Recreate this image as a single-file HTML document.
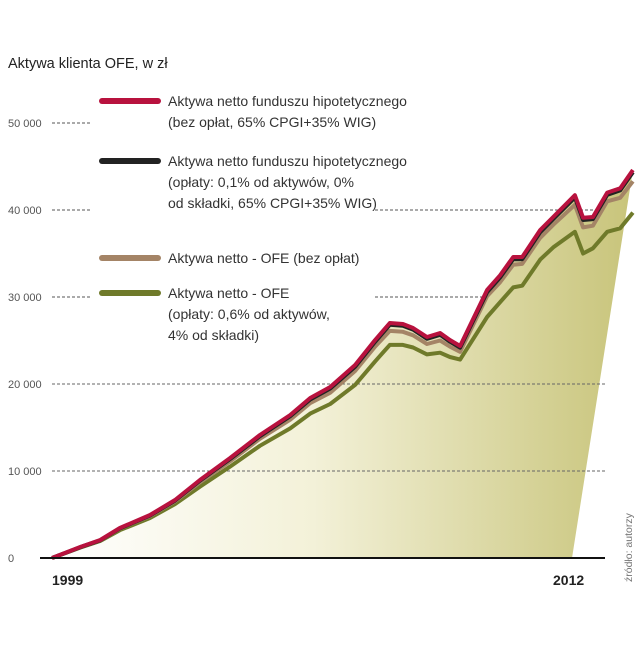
<!DOCTYPE html>
<html><head><meta charset="utf-8"><style>
body{margin:0;background:#fff;width:640px;height:640px;overflow:hidden}
svg text{font-family:"Liberation Sans",sans-serif}
</style></head><body>
<svg id="c" width="640" height="640" xmlns="http://www.w3.org/2000/svg">
<defs><linearGradient id="g" x1="0" x2="1" y1="0" y2="0">
<stop offset="0" stop-color="#ffffff"/><stop offset="0.45" stop-color="#f3f1d8"/><stop offset="1" stop-color="#c8c47a"/></linearGradient></defs>
<text x="8" y="68" font-size="14.5" fill="#222">Aktywa klienta OFE, w zł</text>
<g id="grid"></g>
<g id="fillg"></g>
<g id="lines"></g>
<line x1="40" x2="605" y1="558" y2="558" stroke="#111" stroke-width="2"/>
<text x="52" y="585" font-size="14" font-weight="bold" fill="#222">1999</text>
<text x="553" y="585" font-size="14" font-weight="bold" fill="#222">2012</text>
<text transform="translate(632,582) rotate(-90)" font-size="10.5" fill="#777">źródło: autorzy</text>
<g font-size="14" fill="#333">
<line x1="102" x2="158" y1="101" y2="101" stroke="#b8123e" stroke-width="6" stroke-linecap="round"/>
<text x="168" y="106">Aktywa netto funduszu hipotetycznego<tspan x="168" dy="21">(bez opłat, 65% CPGI+35% WIG)</tspan></text>
<line x1="102" x2="158" y1="161" y2="161" stroke="#222" stroke-width="6" stroke-linecap="round"/>
<text x="168" y="166">Aktywa netto funduszu hipotetycznego<tspan x="168" dy="21">(opłaty: 0,1% od aktywów, 0%</tspan><tspan x="168" dy="21">od składki, 65% CPGI+35% WIG)</tspan></text>
<line x1="102" x2="158" y1="258" y2="258" stroke="#a48466" stroke-width="6" stroke-linecap="round"/>
<text x="168" y="263">Aktywa netto -  OFE (bez opłat)</text>
<line x1="102" x2="158" y1="293" y2="293" stroke="#6f7a2a" stroke-width="6" stroke-linecap="round"/>
<text x="168" y="298">Aktywa netto -  OFE<tspan x="168" dy="21">(opłaty: 0,6% od aktywów,</tspan><tspan x="168" dy="21">4% od składki)</tspan></text>
</g>
</svg>
<script>
const years=[1999.0,1999.69,2000.18,2000.66,2001.40,2002.01,2002.62,2003.36,2004.09,2004.83,2005.32,2005.81,2006.42,2006.91,2007.27,2007.59,2007.84,2008.18,2008.50,2008.74,2008.99,2009.65,2009.97,2010.29,2010.51,2010.95,2011.27,2011.80,2012.0,2012.24,2012.59,2012.91,2013.22];
const redVals=[0,1.26,2.07,3.45,4.94,6.67,8.97,11.49,14.14,16.44,18.39,19.66,22.18,25.06,27.01,26.9,26.44,25.4,25.86,25.06,24.37,30.8,32.5,34.6,34.6,37.7,39.2,41.7,39.1,39.2,42.0,42.5,44.6];
const blackVals=[0,1.24,2.03,3.4,4.88,6.6,8.88,11.38,14.0,16.3,18.22,19.48,21.98,24.85,26.8,26.7,26.25,25.2,25.65,24.86,24.18,30.55,32.25,34.35,34.35,37.45,38.95,41.45,38.85,38.95,41.75,42.25,44.35];
const brownVals=[0,1.24,2.02,3.38,4.82,6.5,8.7,11.1,13.7,15.9,17.8,19.0,21.5,24.3,26.1,26.0,25.6,24.6,25.0,24.3,23.7,30.1,31.7,33.7,33.8,36.8,38.3,40.6,38.0,38.2,41.0,41.4,43.3];
const greenVals=[0,1.2,1.95,3.2,4.6,6.2,8.2,10.5,12.9,14.9,16.6,17.7,19.9,22.6,24.5,24.5,24.2,23.4,23.6,23.1,22.8,27.7,29.4,31.1,31.3,34.3,35.7,37.5,35.0,35.6,37.5,37.9,39.7];
const yTicks=[0,10000,20000,30000,40000,50000];
const yTickLabels=["0","10 000","20 000","30 000","40 000","50 000"];
const fillEndYear=2011.73;
const NS="http://www.w3.org/2000/svg";
function xs(yr){return 52+(yr-1999)*40.85;}
function ys(v){return 558-v*8.7;} // v in thousands
function el(t,a,p){const e=document.createElementNS(NS,t);for(const k in a)e.setAttribute(k,a[k]);p.appendChild(e);return e;}
const grid=document.getElementById('grid');
yTicks.forEach((t,i)=>{
  const y=ys(t/1000);
  const lab=el('text',{x:8,y:y+4,'font-size':11,fill:'#555'},grid);
  lab.textContent=yTickLabels[i];
  
  
  if(t===0)return;
  const segs=t>=50000?[[52,92]]:(t>=30000?[[52,92],[375,605]]:[[52,605]]);
  segs.forEach(s=>{
    const l=el('line',{x1:s[0],x2:s[1],y1:y,y2:y,stroke:'#555','stroke-width':1,'stroke-dasharray':'3,2'},grid);
    
    
  });
});
function pts(vals){return years.map((yr,i)=>xs(yr).toFixed(1)+','+ys(vals[i]).toFixed(1));}
const fp=el('polygon',{points:pts(redVals).join(' ')+' '+xs(fillEndYear)+','+ys(0),fill:'url(#g)'},document.getElementById('fillg'));


// redraw gridlines 10k/20k over fill
const lines=document.getElementById('lines');
[10000,20000].forEach(t=>{const y=ys(t/1000);
  const l=el('line',{x1:52,x2:605,y1:y,y2:y,stroke:'#666','stroke-width':1,'stroke-dasharray':'3,2'},lines);
  
  });
[[greenVals,'#6f7a2a','line-ofe-fees'],[brownVals,'#a48466','line-ofe-no-fees'],[blackVals,'#222','line-hypothetical-fees'],[redVals,'#b8123e','line-hypothetical-no-fees']].forEach(s=>{
  const p=el('polyline',{points:pts(s[0]).join(' '),fill:'none',stroke:s[1],'stroke-width':4,'stroke-linejoin':'round'},lines);
  
  
});
</script>
</body></html>
